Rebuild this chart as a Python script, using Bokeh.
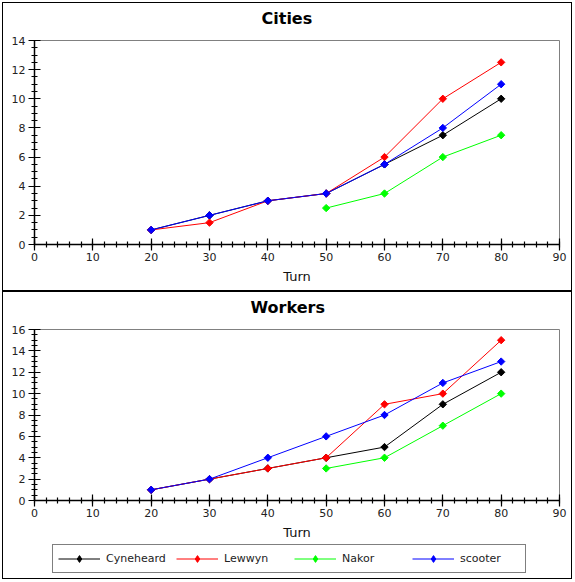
import math
from bokeh.plotting import figure
from bokeh.models import Range1d, SingleIntervalTicker, Legend, LegendItem, Title
from bokeh.layouts import column
from bokeh.embed import file_html
from bokeh.resources import INLINE

# ---------------- data ----------------
players = ["Cyneheard", "Lewwyn", "Nakor", "scooter"]
colors = ["#000000", "#ff0000", "#00ff00", "#0000ff"]

turns = [20, 30, 40, 50, 60, 70, 80]
nakor_turns = [50, 60, 70, 80]

cities_cyneheard = [1, 2, 3, 3.5, 5.5, 7.5, 10]
cities_lewwyn = [1, 1.5, 3, 3.5, 6, 10, 12.5]
cities_nakor = [2.5, 3.5, 6, 7.5]
cities_scooter = [1, 2, 3, 3.5, 5.5, 8, 11]

workers_cyneheard = [1, 2, 3, 4, 5, 9, 12]
workers_lewwyn = [1, 2, 3, 4, 9, 10, 15]
workers_nakor = [3, 4, 7, 10]
workers_scooter = [1, 2, 4, 6, 8, 11, 13]

x_axis_label = "Turn"
FONT = "DejaVu Sans"
BORDER = "1px solid black"


def draw_series(p, xs_list, ys_list, visible=True, legend_style=False):
    items = []
    for name, col, xs, ys in zip(players, colors, xs_list, ys_list):
        r1 = p.line(xs, ys, line_color=col, line_width=1, visible=visible)
        if legend_style:
            r2 = p.scatter(xs, ys, marker="diamond", size=8.5,
                           fill_color=col, line_color=col, line_width=1, visible=visible)
        else:
            r2 = p.scatter(xs, ys, marker="square", angle=math.pi / 4, size=5.2,
                           fill_color=col, line_color=col, line_width=1, visible=visible)
        items.append(LegendItem(label=name, renderers=[r1, r2]))
    return items


def make_fig(title, title_offset, xs_list, ys_list, y_max, height, border_bottom, styles):
    p = figure(width=568, height=height, output_backend="svg", toolbar_location=None,
               x_range=Range1d(0, 90), y_range=Range1d(0, y_max),
               min_border_left=31, min_border_right=14, min_border_top=37,
               min_border_bottom=border_bottom,
               background_fill_color="white", border_fill_color="white",
               outline_line_color="#808080", outline_line_width=1,
               styles=styles)
    p.title = None
    spacer = Title(text=" ", text_font_size="2px", standoff=9)
    p.add_layout(spacer, "above")
    t = Title(text=title, text_font=FONT, text_font_size="16px", text_font_style="bold",
              align="left", offset=title_offset, standoff=0, vertical_align="bottom",
              text_color="black")
    p.add_layout(t, "above")
    p.xgrid.visible = False
    p.ygrid.visible = False

    p.xaxis.ticker = SingleIntervalTicker(interval=10, num_minor_ticks=5)
    p.yaxis.ticker = SingleIntervalTicker(interval=2, num_minor_ticks=4)
    for ax in (p.xaxis[0], p.yaxis[0]):
        ax.axis_line_color = "black"
        ax.axis_line_width = 1.5
        ax.major_tick_line_color = "black"
        ax.major_tick_line_width = 1.2
        ax.minor_tick_line_color = "black"
        ax.minor_tick_line_width = 1.2
        ax.major_tick_in = 6
        ax.major_tick_out = 6
        ax.minor_tick_in = 3
        ax.minor_tick_out = 3
        ax.major_label_text_font = FONT
        ax.major_label_text_font_size = "11px"
        ax.major_label_text_color = "#222222"
    p.xaxis.major_label_standoff = 2
    p.yaxis.major_label_standoff = 3
    p.xaxis.axis_label = x_axis_label
    p.xaxis.axis_label_text_font = FONT
    p.xaxis.axis_label_text_font_size = "13px"
    p.xaxis.axis_label_text_font_style = "normal"
    p.xaxis.axis_label_text_color = "#111111"
    p.xaxis.axis_label_standoff = 5

    draw_series(p, xs_list, ys_list)
    return p


p1 = make_fig("Cities", 227, [turns, turns, nakor_turns, turns],
              [cities_cyneheard, cities_lewwyn, cities_nakor, cities_scooter],
              14, 287, 48, {"border": BORDER, "box-sizing": "content-box"})
p2 = make_fig("Workers", 216, [turns, turns, nakor_turns, turns],
              [workers_cyneheard, workers_lewwyn, workers_nakor, workers_scooter],
              16, 251, 44,
              {"border-left": BORDER, "border-right": BORDER, "border-top": BORDER,
               "box-sizing": "content-box"})

# legend strip belonging to the Workers panel
pl = figure(width=568, height=35, output_backend="svg", toolbar_location=None,
            x_range=Range1d(0, 90), y_range=Range1d(0, 16),
            x_axis_location=None, y_axis_location=None,
            min_border=0, min_border_left=0, min_border_right=0,
            min_border_top=0, min_border_bottom=0,
            background_fill_color="white", border_fill_color="white",
            outline_line_color=None,
            styles={"border-left": BORDER, "border-right": BORDER, "border-bottom": BORDER,
                    "box-sizing": "content-box"})
pl.title = None
pl.xgrid.visible = False
pl.ygrid.visible = False
legend_items = draw_series(pl, [turns, turns, nakor_turns, turns],
                           [workers_cyneheard, workers_lewwyn, workers_nakor, workers_scooter],
                           visible=False, legend_style=True)
leg = Legend(items=legend_items, orientation="horizontal", location=(18, 6),
             glyph_width=42, glyph_height=17, label_height=17,
             label_width=60, label_standoff=6, spacing=10, padding=5,
             margin=0, border_line_color="black", border_line_width=1.2,
             background_fill_color="white", background_fill_alpha=1,
             label_text_font=FONT, label_text_font_size="11px",
             label_text_color="#222222", click_policy="none")
pl.add_layout(leg, "center")

layout = column(p1, p2, pl, spacing=0,
                styles={"margin-left": "2px", "margin-top": "2px"})

open("out.html", "w").write(file_html(layout, INLINE))
